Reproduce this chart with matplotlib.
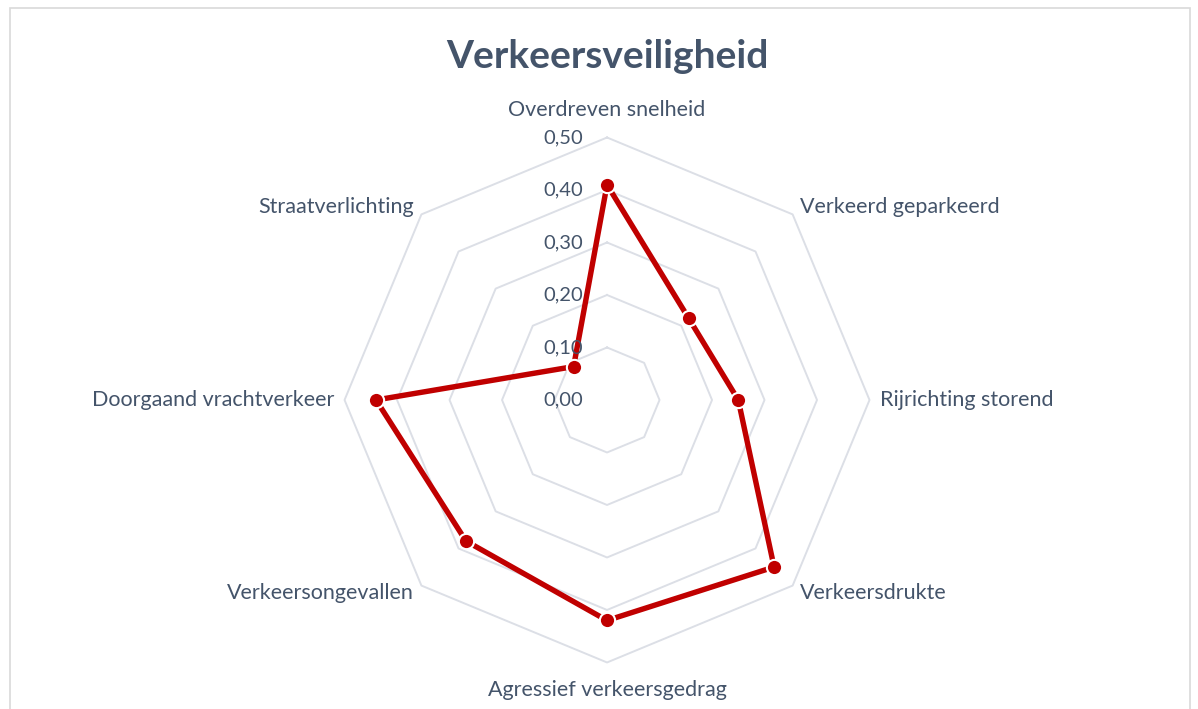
import numpy as np
import matplotlib.pyplot as plt
from matplotlib.patches import Rectangle

plt.rcParams['font.family'] = ['Lato', 'DejaVu Sans']

categories = ['Overdreven snelheid', 'Verkeerd geparkeerd', 'Rijrichting storend',
              'Verkeersdrukte', 'Agressief verkeersgedrag', 'Verkeersongevallen',
              'Doorgaand vrachtverkeer', 'Straatverlichting']
values = [0.41, 0.22, 0.25, 0.45, 0.42, 0.38, 0.44, 0.09]
ticks = [0.0, 0.1, 0.2, 0.3, 0.4, 0.5]
tick_labels = ['0,00', '0,10', '0,20', '0,30', '0,40', '0,50']

txt = '#44546A'
gridc = '#DCDFE6'
red = '#C00000'

fig = plt.figure(figsize=(11.98, 7.09), dpi=100)
fig.add_artist(Rectangle((10 / 1198, -0.1), 1180 / 1198, 1.1 - 8 / 709,
                         transform=fig.transFigure, fill=False,
                         edgecolor='#D9D9D9', linewidth=1.2))

ax = fig.add_axes([0.2876, 0.0656, 0.4382, 0.7405], projection='polar')
ax.set_theta_offset(np.pi / 2)
ax.set_theta_direction(-1)
ax.set_ylim(0, 0.5)
ax.grid(False)
ax.spines['polar'].set_visible(False)
ax.set_xticks([])
ax.set_yticks([])
ax.patch.set_alpha(0)

n = len(categories)
ang = np.arange(n) * 2 * np.pi / n
ang_c = np.append(ang, ang[0])

# octagon rings (no spokes)
for t in ticks[1:]:
    ax.plot(ang_c, [t] * (n + 1), color=gridc, lw=1.4, zorder=1, clip_on=False)

vals_c = values + values[:1]
ax.plot(ang_c, vals_c, color=red, lw=3.9, zorder=3, clip_on=False)
ax.plot(ang, values, 'o', color=red, markersize=11, markeredgecolor='white',
        markeredgewidth=1.5, zorder=4, clip_on=False)

# radial tick labels
for t, lab in zip(ticks, tick_labels):
    ax.annotate(lab, (0, t), xytext=(-17, 0), textcoords='offset points',
                ha='right', va='center', fontsize=14.5, color=txt, zorder=5)

# category labels
for a, c in zip(ang, categories):
    s = np.sin(a)
    if abs(s) < 0.01:
        ax.text(a, 0.553, c, ha='center', va='center', fontsize=15.5, color=txt)
    else:
        ha = 'left' if s > 0 else 'right'
        ax.text(a, 0.52, c, ha=ha, va='center', fontsize=15.5, color=txt)

fig.text(607 / 1198, 1 - 57 / 709, 'Verkeersveiligheid', ha='center', va='center',
         fontsize=28, fontweight='bold', color=txt)

fig.savefig('out.png', dpi=100)
